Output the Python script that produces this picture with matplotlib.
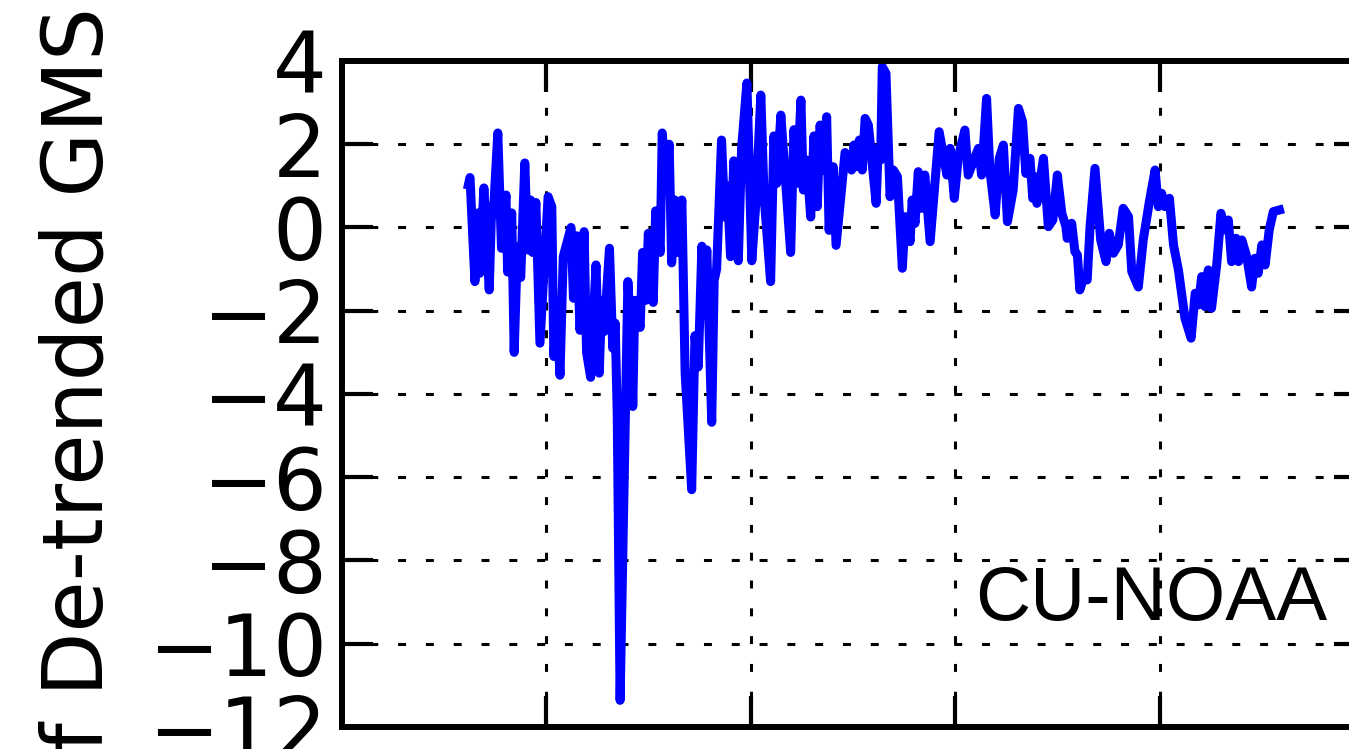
# -*- coding: utf-8 -*-
# De-trended GMSL anomaly, CU-NOAA altimetry series
import matplotlib
matplotlib.use("Agg")
import matplotlib.pyplot as plt

# decimal year and de-trended GMSL anomaly [mm]
years = [
    1993.09, 1993.13, 1993.25, 1993.33, 1993.37, 1993.47, 1993.60, 1993.66, 1993.70, 1993.81,
    1993.90, 1994.01, 1994.05, 1994.15, 1994.21, 1994.29, 1994.37, 1994.47, 1994.54, 1994.61,
    1994.66, 1994.74, 1994.84, 1995.04, 1995.13, 1995.18, 1995.25, 1995.33, 1995.41, 1995.60,
    1995.66, 1995.74, 1995.82, 1995.92, 1995.98, 1996.08, 1996.21, 1996.29, 1996.35, 1996.41,
    1996.54, 1996.62, 1996.68, 1996.73, 1996.80, 1996.99, 1997.06, 1997.11, 1997.16, 1997.29,
    1997.35, 1997.43, 1997.49, 1997.61, 1997.67, 1997.78, 1997.83, 1997.92, 1998.00, 1998.06,
    1998.14, 1998.22, 1998.31, 1998.39, 1998.55, 1998.63, 1998.71, 1998.80, 1998.85, 1998.92,
    1999.04, 1999.10, 1999.16, 1999.28, 1999.36, 1999.42, 1999.50, 1999.58, 1999.69, 1999.77,
    1999.90, 2000.02, 2000.12, 2000.24, 2000.32, 2000.48, 2000.56, 2000.63, 2000.73, 2000.97,
    2001.05, 2001.13, 2001.22, 2001.28, 2001.36, 2001.46, 2001.54, 2001.62, 2001.69, 2001.75,
    2001.85, 2001.91, 2002.01, 2002.08, 2002.30, 2002.42, 2002.46, 2002.52, 2002.58, 2002.65,
    2002.72, 2002.79, 2002.87, 2003.06, 2003.11, 2003.17, 2003.21, 2003.30, 2003.40, 2003.48,
    2003.58, 2003.70, 2003.77, 2003.89, 2003.94, 2004.01, 2004.09, 2004.17, 2004.25, 2004.38,
    2004.60, 2004.79, 2004.87, 2004.97, 2005.07, 2005.23, 2005.31, 2005.56, 2005.64, 2005.76,
    2005.84, 2005.97, 2006.07, 2006.17, 2006.27, 2006.41, 2006.54, 2006.64, 2006.72, 2006.82,
    2006.89, 2006.94, 2006.99, 2007.15, 2007.27, 2007.38, 2007.49, 2007.60, 2007.70, 2007.73,
    2007.84, 2007.92, 2007.98, 2008.04, 2008.14, 2008.22, 2008.29, 2008.41, 2008.55, 2008.68,
    2008.76, 2008.86, 2008.98, 2009.10, 2009.23, 2009.31, 2009.47, 2009.59, 2009.74, 2009.88,
    2009.96, 2010.04, 2010.12, 2010.23, 2010.33, 2010.45, 2010.61, 2010.76, 2010.86, 2010.94,
    2011.02, 2011.10, 2011.18, 2011.26, 2011.39, 2011.49, 2011.59, 2011.67, 2011.75, 2011.86,
    2011.92, 2012.00, 2012.12, 2012.24, 2012.32, 2012.40, 2012.49, 2012.57, 2012.67, 2012.77,
    2012.92,
]
gmsl = [
    1.02, 1.20, -1.30, 0.35, -1.10, 0.95, -1.50, 0.50, 0.30, 2.27,
    -0.50, 0.78, -1.07, 0.35, -3.00, -0.46, -1.20, 1.55, -0.54, 0.66,
    -0.60, 0.60, -2.78, 0.74, 0.50, -3.10, -2.00, -3.55, -0.70, 0.00,
    -1.70, -0.20, -2.47, -0.10, -3.00, -3.60, -0.90, -3.50, -1.75, -2.50,
    -0.50, -2.90, -2.30, -4.50, -11.36, -1.30, -2.50, -4.30, -1.75, -2.40,
    -0.60, -1.75, -0.14, -1.80, 0.40, -0.60, 2.27, 1.15, 2.00, -0.85,
    0.66, -0.60, 0.66, -3.50, -6.30, -2.60, -3.35, -0.45, -2.10, -0.54,
    -4.68, -1.27, -1.00, 2.10, 0.25, 1.00, -0.70, 1.60, -0.80, 1.90,
    3.47, -0.80, 0.60, 3.18, 0.75, -1.30, 2.20, 1.06, 2.70, -0.60,
    2.35, 1.06, 3.06, 0.90, 1.62, 0.25, 2.20, 0.50, 2.46, 1.38,
    2.66, -0.07, 1.46, -0.43, 1.80, 1.60, 1.38, 1.98, 1.46, 2.10,
    1.38, 2.62, 2.46, 0.58, 1.90, 1.62, 3.86, 3.70, 0.74, 1.38,
    1.22, -0.98, 0.26, -0.34, 0.66, 0.10, 1.34, 0.46, 1.26, -0.34,
    2.30, 1.26, 1.90, 0.70, 1.70, 2.34, 1.26, 1.90, 1.26, 3.10,
    1.38, 0.30, 1.66, 1.98, 0.14, 0.90, 2.86, 2.54, 1.30, 1.66,
    0.70, 1.22, 0.58, 1.66, 0.02, 0.18, 1.26, 0.34, 0.02, -0.26,
    0.10, -0.58, -0.66, -1.50, -1.18, -1.26, 0.02, 1.42, -0.30, -0.82,
    -0.14, -0.62, -0.42, 0.46, 0.26, -1.06, -1.43, -0.30, 0.62, 1.38,
    0.50, 0.82, 0.50, 0.70, -0.42, -1.02, -2.18, -2.66, -1.58, -1.86,
    -1.18, -1.90, -1.02, -1.94, -0.86, 0.34, -0.06, 0.18, -0.82, -0.26,
    -0.82, -0.30, -0.70, -1.43, -0.74, -1.10, -0.42, -0.90, -0.06, 0.38,
    0.42,
]
xticks = [1990, 1995, 2000, 2005, 2010, 2015]
yticks = [-12, -10, -8, -6, -4, -2, 0, 2, 4]
ylabel = "Anomaly of De-trended GMSL (mm)"
source = "CU-NOAA"

fig = plt.figure(figsize=(13.49, 7.49), dpi=100)
ax = fig.add_axes([0.2535, 0.0294, 0.7580, 0.8892])

ax.plot(years, gmsl, color="#0000ff", linewidth=6.5, solid_joinstyle="round")

ax.set_xlim(1990, 2015)
ax.set_ylim(-12, 4)
ax.set_xticks(xticks)
ax.set_yticks(yticks)
ax.tick_params(direction="in", length=22, width=3, labelsize=61, pad=11,
               top=True, right=True, labelbottom=False)
for sp in ax.spines.values():
    sp.set_linewidth(4.3)
ax.grid(True, color="black", linewidth=2.2, linestyle=(0, (2.6, 6.5)))

ax.set_ylabel(ylabel, fontsize=60)
ax.yaxis.set_label_coords(-0.217, 0.414)

ax.text(0.619, 0.1607, source, transform=ax.transAxes, fontsize=55,
        family="Liberation Sans", va="baseline", ha="left")

plt.savefig("out.png", dpi=100)
